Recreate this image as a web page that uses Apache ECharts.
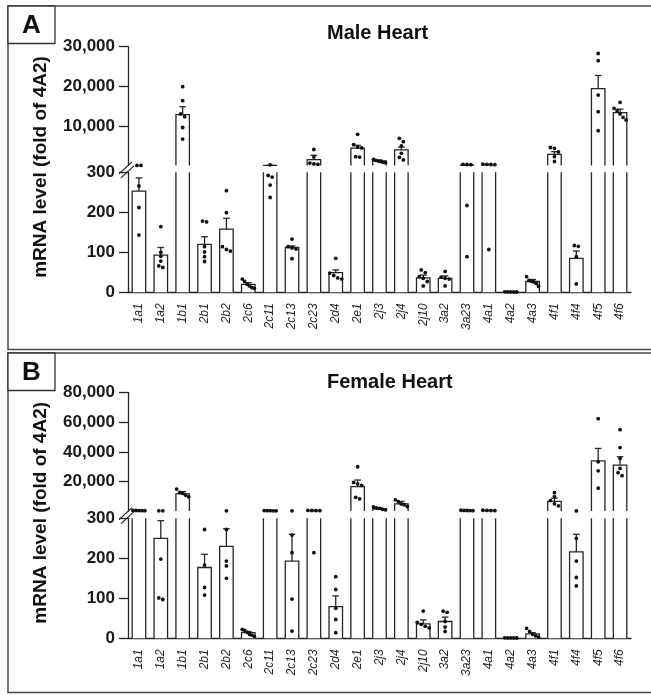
<!DOCTYPE html>
<html><head><meta charset="utf-8">
<script src="https://cdn.jsdelivr.net/npm/echarts@6.0.0/dist/echarts.min.js"></script>
<style>html,body{margin:0;padding:0;background:#fff}#c{width:651px;height:695px}</style>
</head><body><div id="c"></div>
<script>
const categories = ['1a1','1a2','1b1','2b1','2b2','2c6','2c11','2c13','2c23','2d4','2e1','2j3','2j4','2j10','3a2','3a23','4a1','4a2','4a3','4f1','4f4','4f5','4f6'];

const maleMean = [253, 93, 13000, 120, 158, 20, 315, 112, 1750, 49, 4650, 1450, 4200, 36, 35, 390, 480, 1, 27, 3100, 85, 19500, 13500];
const maleSem  = [33, 19, 2000, 19, 27, 4, 45, 4, 1100, 7, 700, 200, 700, 7, 6, 100, 110, 0.3, 5, 650, 18, 3300, 900];
const malePoints = [
  [318, 312, 266, 212, 143],
  [164, 100, 90, 78, 66, 62],
  [20000, 16500, 13200, 12500, 9800, 6900],
  [178, 176, 114, 101, 89, 77],
  [254, 199, 114, 107, 103],
  [33, 27, 20, 16, 12, 10],
  [480, 292, 288, 268, 237],
  [133, 114, 111, 108, 84],
  [4300, 2400, 900, 700, 600],
  [85, 48, 42, 36, 33],
  [8100, 5500, 4900, 4700, 2500, 2400],
  [1800, 1600, 1400, 1300, 1100, 1000],
  [7100, 6250, 5200, 3350, 2350, 1700],
  [56, 49, 39, 35, 27, 16],
  [52, 38, 35, 33, 16],
  [600, 550, 500, 217, 89],
  [650, 600, 550, 500, 107],
  [1.2, 1, 1, 0.9, 0.8],
  [39, 30, 28, 26, 22, 15],
  [4800, 4600, 3700, 2500, 1300],
  [117, 115, 89, 21],
  [28300, 26500, 17900, 13750, 9000],
  [16100, 14600, 14000, 13200, 12350, 11700]
];

const femaleMean = [600, 250, 11800, 177, 230, 14, 500, 193, 540, 79, 16700, 1800, 5100, 36, 42, 650, 650, 1, 11, 6700, 216, 34000, 31100];
const femaleSem  = [80, 44, 1500, 33, 44, 3, 40, 67, 110, 27, 4400, 500, 1600, 10, 11, 50, 60, 0.3, 3, 2200, 44, 8300, 5600];
const femalePoints = [
  [700, 650, 600, 550, 500],
  [420, 400, 198, 101, 97],
  [15000, 12800, 12200, 10800, 9800],
  [272, 183, 127, 108],
  [400, 272, 193, 181, 150],
  [22, 20, 15, 10, 8, 5],
  [600, 550, 500, 450, 400],
  [420, 258, 214, 98, 18],
  [700, 650, 600, 550, 214],
  [154, 122, 75, 47, 14],
  [30000, 19500, 18500, 17500, 9500, 8500],
  [3100, 2300, 2000, 1400, 1100],
  [7800, 6500, 5000, 4500, 3300],
  [68, 40, 35, 30, 26],
  [68, 65, 42, 28, 17],
  [800, 700, 650, 600, 550],
  [800, 700, 600, 500],
  [1.2, 1, 1, 0.9, 0.8],
  [25, 17, 10, 6, 3],
  [12700, 10000, 7300, 5100, 3800],
  [360, 250, 193, 152, 131],
  [62300, 33300, 27300, 15600],
  [54900, 42900, 35600, 28900, 26000, 24000]
];

const maleUpperTicks = [10000, 20000, 30000];
const femaleUpperTicks = [20000, 40000, 60000, 80000];
const lowerTicks = [0, 100, 200, 300];
const BREAK = 300;

const INK = '#262626';
const FONT = '"Liberation Sans", Arial, sans-serif';
const GL = 128, GR = 631;
const BAR_W = 13.5;

const panels = [
  {label: 'A', title: 'Male Heart', mean: maleMean, sem: maleSem, pts: malePoints, upperMax: 30000, upperTicks: maleUpperTicks,
   upperTop: 46.7, upperBottom: 165.5, lowerTop: 172.3, lowerBottom: 292.3, boxTop: 6, boxBottom: 349.5, titleY: 33},
  {label: 'B', title: 'Female Heart', mean: femaleMean, sem: femaleSem, pts: femalePoints, upperMax: 80000, upperTicks: femaleUpperTicks,
   upperTop: 392.3, upperBottom: 511, lowerTop: 518.3, lowerBottom: 638.3, boxTop: 353, boxBottom: 692.5, titleY: 382}
];

const grids = [], xAxes = [], yAxes = [], series = [], graphics = [];

function barRender(seg) {
  return function (params, api) {
    const i = api.value(0), v = api.value(1);
    if (!(v > seg.min)) return null;
    const cs = params.coordSys;
    const cx = api.coord([i, seg.min])[0];
    const yBot = cs.y + cs.height;
    let yTop = api.coord([i, v])[1];
    let clipped = false;
    if (yTop < cs.y) { yTop = cs.y; clipped = true; }
    const x0 = cx - BAR_W / 2, x1 = cx + BAR_W / 2;
    const ls = {stroke: INK, lineWidth: 1.3, fill: null};
    const children = [
      {type: 'rect', shape: {x: x0, y: yTop, width: BAR_W, height: yBot - yTop}, style: {fill: '#fff'}}
    ];
    if (clipped) {
      children.push({type: 'polyline', shape: {points: [[x0, yBot], [x0, yTop]]}, style: ls});
      children.push({type: 'polyline', shape: {points: [[x1, yBot], [x1, yTop]]}, style: ls});
    } else {
      children.push({type: 'polyline', shape: {points: [[x0, yBot], [x0, yTop], [x1, yTop], [x1, yBot]]}, style: ls});
    }
    return {type: 'group', children: children};
  };
}

function errRender(seg) {
  return function (params, api) {
    const i = api.value(0), m = api.value(1), s = api.value(2);
    const top = m + s;
    if (!(top > seg.min) || m >= seg.max) return null;
    const cs = params.coordSys;
    const yBot = cs.y + cs.height;
    const cx = api.coord([i, seg.min])[0];
    let y1 = api.coord([i, m])[1];
    let y2 = api.coord([i, top])[1];
    y1 = Math.min(Math.max(y1, cs.y), yBot);
    let capped = true;
    if (y2 < cs.y) { y2 = cs.y; capped = false; }
    const ls = {stroke: INK, lineWidth: 1.3, fill: null};
    const children = [{type: 'line', shape: {x1: cx, y1: y1, x2: cx, y2: y2}, style: ls}];
    if (capped) children.push({type: 'line', shape: {x1: cx - 3.3, y1: y2, x2: cx + 3.3, y2: y2}, style: ls});
    return {type: 'group', children: children};
  };
}

function ptsRender(seg, pts) {
  return function (params, api) {
    const i = api.value(0);
    const list = pts[i].filter(v => seg.upper ? v > seg.min : v <= seg.max);
    if (!list.length) return null;
    const cx = api.coord([i, seg.min])[0];
    const ys = list.map(v => api.coord([i, v])[1]).sort((a, b) => a - b);
    const clusters = [];
    ys.forEach(y => {
      const last = clusters[clusters.length - 1];
      if (last && y - last[last.length - 1] < 3.6) last.push(y); else clusters.push([y]);
    });
    const children = [];
    clusters.forEach(c => {
      const n = c.length;
      const step = n > 1 ? Math.min(4, 12 / (n - 1)) : 0;
      c.forEach((y, k) => {
        children.push({type: 'circle', shape: {cx: cx + (k - (n - 1) / 2) * step, cy: y, r: 1.9}, style: {fill: '#111'}});
      });
    });
    return {type: 'group', children: children};
  };
}

panels.forEach((p) => {
  const segs = [
    {top: p.upperTop, bottom: p.upperBottom, min: BREAK, max: p.upperMax, ticks: p.upperTicks, upper: true},
    {top: p.lowerTop, bottom: p.lowerBottom, min: 0, max: BREAK, ticks: lowerTicks, upper: false}
  ];
  segs.forEach(seg => {
    const gi = grids.length;
    grids.push({left: GL, width: GR - GL, top: seg.top, height: seg.bottom - seg.top});
    xAxes.push({
      type: 'category', gridIndex: gi, data: categories, show: !seg.upper, boundaryGap: true,
      axisLine: {lineStyle: {color: INK, width: 1.3}},
      axisTick: {alignWithLabel: true, length: 6, lineStyle: {color: INK, width: 1.3}},
      axisLabel: {rotate: 90, interval: 0, fontStyle: 'italic', fontSize: 12, color: INK, margin: 11, fontFamily: FONT},
      splitLine: {show: false}
    });
    yAxes.push({
      type: 'value', gridIndex: gi, min: seg.min, max: seg.max,
      axisLine: {show: true, lineStyle: {color: INK, width: 1.3}},
      axisTick: {show: true, length: 9, customValues: seg.ticks, lineStyle: {color: INK, width: 1.3}},
      axisLabel: {customValues: seg.ticks, fontSize: 17, fontWeight: 'bold', color: '#1a1a1a', margin: 13, fontFamily: FONT,
                  formatter: v => echarts.format.addCommas(v)},
      splitLine: {show: false}
    });
    series.push({
      type: 'custom', xAxisIndex: gi, yAxisIndex: gi, z: 2,
      data: categories.map((c, i) => [i, p.mean[i]]), renderItem: barRender(seg)
    });
    series.push({
      type: 'custom', xAxisIndex: gi, yAxisIndex: gi, z: 3,
      data: categories.map((c, i) => [i, p.mean[i], p.sem[i]]), renderItem: errRender(seg)
    });
    series.push({
      type: 'custom', xAxisIndex: gi, yAxisIndex: gi, z: 4,
      data: categories.map((c, i) => [i]), renderItem: ptsRender(seg, p.pts)
    });
  });

  // panel frame
  graphics.push({type: 'rect', shape: {x: 8, y: p.boxTop, width: 660, height: p.boxBottom - p.boxTop},
    style: {fill: null, stroke: '#4a4a4a', lineWidth: 1.5}, z: 10});
  graphics.push({type: 'rect', shape: {x: 8, y: p.boxTop, width: 47, height: 37.5},
    style: {fill: '#fff', stroke: '#333', lineWidth: 1.3}, z: 10});
  graphics.push({type: 'text', x: 31.5, y: p.boxTop + 19.5, z: 11,
    style: {text: p.label, align: 'center', verticalAlign: 'middle', font: 'bold 26px ' + FONT, fill: '#111'}});
  graphics.push({type: 'text', x: 327, y: p.titleY, z: 11,
    style: {text: p.title, align: 'left', verticalAlign: 'middle', font: 'bold 20px ' + FONT, fill: '#111'}});
  graphics.push({type: 'text', x: 41, y: (p.upperTop + p.lowerBottom) / 2 - 2.5, rotation: Math.PI / 2, z: 11,
    style: {text: 'mRNA level (fold of 4A2)', align: 'center', verticalAlign: 'middle', font: 'bold 19px ' + FONT, fill: '#111'}});
  const mid = (p.upperBottom + p.lowerTop) / 2;
  graphics.push({type: 'line', shape: {x1: GL - 9, y1: mid + 5, x2: GL + 4, y2: mid - 7}, style: {stroke: INK, lineWidth: 1.2}, z: 11});
  graphics.push({type: 'line', shape: {x1: GL - 7, y1: mid + 9, x2: GL + 6, y2: mid - 3}, style: {stroke: INK, lineWidth: 1.2}, z: 11});
});

const chart = echarts.init(document.getElementById('c'), null, {renderer: 'canvas'});
chart.setOption({
  animation: false,
  backgroundColor: '#fff',
  grid: grids, xAxis: xAxes, yAxis: yAxes, series: series,
  graphic: {elements: graphics}
});
</script>
</body></html>
